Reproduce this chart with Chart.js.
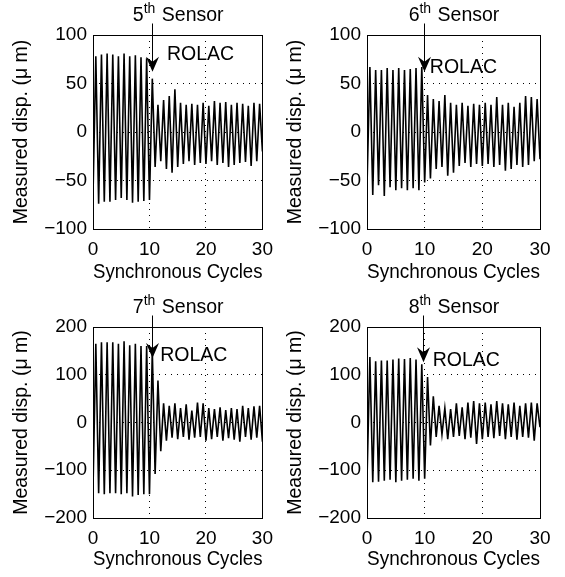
<!DOCTYPE html>
<html>
<head>
<meta charset="utf-8">
<title>Measured displacement before and after ROLAC</title>
<script src="https://cdn.jsdelivr.net/npm/chart.js@4.4.0/dist/chart.umd.min.js"></script>
<style>
  body { margin: 0; background: #fff; }
  #page { position: relative; width: 565px; height: 577px; overflow: hidden; }
  #page canvas { position: absolute; }
</style>
</head>
<body>
<div id="page">
  <canvas id="s5"></canvas>
  <canvas id="s6"></canvas>
  <canvas id="s7"></canvas>
  <canvas id="s8"></canvas>
</div>
<script>
// synchronous cycle of each peak / trough
const cycles = [0, 0.5, 1, 1.5, 2, 2.5, 3, 3.5, 4, 4.5, 5, 5.5, 6, 6.5, 7, 7.5, 8, 8.5, 9, 9.5,
  10, 10.5, 11, 11.5, 12, 12.5, 13, 13.5, 14, 14.5, 15, 15.5, 16, 16.5, 17, 17.5, 18, 18.5, 19, 19.5,
  20, 20.5, 21, 21.5, 22, 22.5, 23, 23.5, 24, 24.5, 25, 25.5, 26, 26.5, 27, 27.5, 28, 28.5, 29, 29.5, 30];

// measured displacement (um) at those points
const sensor5 = [-66, 78, -74, 80, -72, 81, -72, 80, -70, 78, -68, 81, -70, 78, -73, 79, -72, 77, -71, 76,
  -70, 55, -36, 28, -30, 33, -38, 37, -42, 44, -36, 30, -33, 28, -30, 29, -34, 28, -32, 30,
  -33, 27, -30, 32, -34, 30, -32, 31, -36, 28, -34, 30, -32, 29, -31, 27, -35, 30, -30, 29, -20];
const sensor6 = [-56, 67, -65, 64, -55, 64, -66, 66, -57, 64, -60, 66, -58, 64, -60, 65, -58, 66, -60, 67,
  -52, 38, -48, 34, -38, 32, -36, 38, -45, 30, -42, 28, -35, 30, -32, 27, -36, 29, -33, 28,
  -35, 30, -33, 28, -36, 36, -34, 28, -40, 30, -38, 26, -34, 30, -36, 37, -34, 36, -30, 34, -28];
const sensor7 = [-140, 165, -148, 168, -150, 168, -148, 168, -148, 165, -150, 170, -148, 162, -155, 165, -152, 160, -150, 160,
  -150, 150, -108, 88, -60, 40, -38, 35, -32, 40, -35, 30, -30, 38, -36, 25, -32, 42, -30, 40,
  -38, 30, -35, 28, -30, 32, -38, 26, -33, 30, -36, 28, -40, 35, -30, 30, -36, 34, -32, 35, -40];
const sensor8 = [-120, 137, -125, 128, -124, 130, -122, 130, -120, 132, -125, 134, -122, 133, -120, 135, -118, 132, -122, 122,
  -118, 95, -48, 55, -30, 35, -25, 30, -35, 28, -30, 40, -28, 32, -35, 42, -32, 45, -45, 40,
  -35, 42, -30, 38, -33, 45, -28, 40, -35, 38, -30, 42, -36, 35, -30, 40, -32, 42, -38, 40, -10];

// tick labels
const xTicks = [0, 10, 20, 30];
const yTicksSmall = [-100, -50, 0, 50, 100];
const yTicksLarge = [-200, -100, 0, 100, 200];

const FONT = '"Liberation Sans", Arial, Helvetica, sans-serif';
Chart.defaults.font.family = FONT;
Chart.defaults.font.size = 19;
Chart.defaults.color = '#000';

// one entry per subplot: where it sits and where the ROLAC arrow points (data units)
const panels = [
  { id: 's5', nth: '5', values: sensor5, yTicks: yTicksSmall, left: 0, top: 0, width: 282, height: 288, padRight: 13, xHeight: 59, arrow: [10.5, 62], label: [13.1, 74] },
  { id: 's6', nth: '6', values: sensor6, yTicks: yTicksSmall, left: 274, top: 0, width: 291, height: 288, padRight: 25, xHeight: 59, arrow: [9.9, 62], label: [10.9, 61] },
  { id: 's7', nth: '7', values: sensor7, yTicks: yTicksLarge, left: 0, top: 292, width: 282, height: 283, padRight: 13, xHeight: 57, arrow: [10.4, 135], label: [11.9, 128] },
  { id: 's8', nth: '8', values: sensor8, yTicks: yTicksLarge, left: 274, top: 292, width: 291, height: 283, padRight: 25, xHeight: 57, arrow: [9.7, 126], label: [11.4, 118] }
];

const minus = v => String(v).replace('-', '\u2212');

// box, "nth Sensor" title, arrow and ROLAC label
const rolacPlugin = {
  id: 'rolac',
  afterDraw(chart, args, opts) {
    const { ctx, chartArea: a, scales: { x, y } } = chart;
    ctx.save();
    ctx.strokeStyle = '#000';
    ctx.fillStyle = '#000';
    ctx.lineWidth = 1;
    ctx.strokeRect(Math.round(a.left) + 0.5, Math.round(a.top) + 0.5,
      Math.round(a.right - a.left), Math.round(a.bottom - a.top));

    // title with superscript
    const base = a.top - 14.5;
    ctx.textBaseline = 'alphabetic';
    ctx.font = '19.5px ' + FONT;
    const wNum = ctx.measureText(opts.nth).width;
    const wRest = ctx.measureText(' Sensor').width;
    ctx.font = '14px ' + FONT;
    const wSup = ctx.measureText('th').width;
    let tx = (a.left + a.right) / 2 - (wNum + wSup + wRest) / 2;
    ctx.font = '19.5px ' + FONT;
    ctx.fillText(opts.nth, tx, base);
    ctx.font = '14px ' + FONT;
    ctx.fillText('th', tx + wNum, base - 8);
    ctx.font = '19.5px ' + FONT;
    ctx.fillText(' Sensor', tx + wNum + wSup + 1, base);

    // arrow from the title down to the switch-on point
    const ax = Math.round(x.getPixelForValue(opts.arrow[0])) + 0.5;
    const ay = y.getPixelForValue(opts.arrow[1]);
    ctx.beginPath();
    ctx.moveTo(ax, base + 3);
    ctx.lineTo(ax, ay - 8);
    ctx.stroke();
    ctx.beginPath();
    ctx.moveTo(ax, ay);
    ctx.lineTo(ax - 6.5, ay - 15);
    ctx.lineTo(ax, ay - 10);
    ctx.lineTo(ax + 6.5, ay - 15);
    ctx.closePath();
    ctx.fill();

    ctx.font = '19.5px ' + FONT;
    ctx.fillText('ROLAC', x.getPixelForValue(opts.label[0]), y.getPixelForValue(opts.label[1]));
    ctx.restore();
  }
};

function makeChart(p) {
  const canvas = document.getElementById(p.id);
  canvas.width = p.width;
  canvas.height = p.height;
  canvas.style.left = p.left + 'px';
  canvas.style.top = p.top + 'px';

  const yMax = p.yTicks[p.yTicks.length - 1];

  return new Chart(canvas, {
    type: 'line',
    data: {
      datasets: [{
        data: cycles.map((c, i) => ({ x: c, y: p.values[i] })),
        borderColor: '#000',
        borderWidth: 1.6,
        pointRadius: 0,
        tension: 0
      }]
    },
    options: {
      responsive: false,
      animation: false,
      events: [],
      layout: { padding: { top: 35, right: p.padRight, left: 0, bottom: 0 } },
      plugins: {
        legend: { display: false },
        tooltip: { enabled: false },
        rolac: { nth: p.nth, arrow: p.arrow, label: p.label }
      },
      scales: {
        x: {
          type: 'linear',
          min: 0,
          max: 30,
          afterBuildTicks: s => { s.ticks = xTicks.map(v => ({ value: v })); },
          afterFit: s => { s.height = p.xHeight; },
          ticks: { padding: 9, maxRotation: 0, callback: minus },
          grid: { color: '#000', lineWidth: 1, drawTicks: false },
          border: { display: false, dash: [1, 5] },
          title: { display: true, text: 'Synchronous Cycles', font: { size: 19.5 }, padding: { top: 0, bottom: 4 } }
        },
        y: {
          min: -yMax,
          max: yMax,
          afterBuildTicks: s => { s.ticks = p.yTicks.map(v => ({ value: v })); },
          afterFit: s => { s.width = 93; },
          ticks: { padding: 6, callback: minus },
          grid: { color: '#000', lineWidth: 1, drawTicks: false },
          border: { display: false, dash: [1, 5] },
          title: { display: true, text: 'Measured disp. (\u03bc m)', font: { size: 19.5 }, padding: { top: 10, bottom: 0 } }
        }
      }
    },
    plugins: [rolacPlugin]
  });
}

panels.forEach(makeChart);
</script>
</body>
</html>
